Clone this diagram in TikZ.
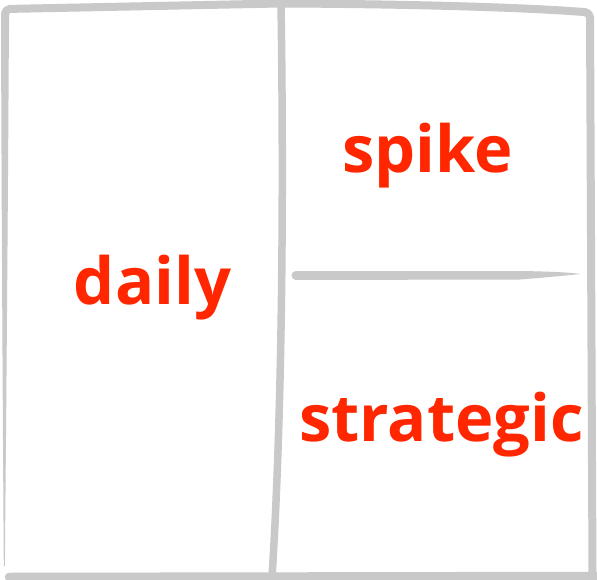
\documentclass[tikz,border=0pt]{standalone}
\usepackage{fontspec}
\setmainfont{Open Sans}
\definecolor{linegray}{RGB}{201,201,201}
\definecolor{labelred}{RGB}{255,38,0}
\tikzset{
  frameline/.style={draw=linegray, line width=8pt, line cap=round, line join=round},
  label/.style={text=labelred, font=\fontsize{65}{70}\selectfont\bfseries, anchor=base, inner sep=0pt},
}
\begin{document}
\begin{tikzpicture}[x=1pt,y=-1pt]
\useasboundingbox (0,0) rectangle (597,580);
\fill[white] (0,0) rectangle (597,580);
% left edge, tapering towards the bottom
\fill[linegray] (1,14) -- (9,14) .. controls (8,200) and (6,450) .. (4.8,566) -- (3.8,566) .. controls (3,450) and (1.5,200) .. (1,14) -- cycle;
% top edge with corners and right edge
\draw[frameline, rounded corners=5pt] (5,30) -- (5,9) -- (280,3.5) .. controls (400,4) and (520,7) .. (590,12.5) -- (592.5,576);
% bottom edge
\draw[frameline, line width=8.5pt] (9,577) -- (602,576);
% vertical divider
\draw[frameline, line width=7.5pt] (281,3) .. controls (284,200) and (282,420) .. (272,577);
% horizontal divider, tapering to the right
\fill[linegray] (296,271) -- (520,271) .. controls (552,271.5) and (570,272.5) .. (581,274) .. controls (570,275) and (552,277) .. (520,279.5) -- (296,280) -- cycle;
\fill[linegray] (296,275.5) circle[radius=4.5];
% labels
\node[label] (daily) at (152.5,304) {daily};
\node[label] (spike) at (427.5,173) {spike};
\node[label] (strategic) at (441.5,441) {strategic};
\end{tikzpicture}
\end{document}
